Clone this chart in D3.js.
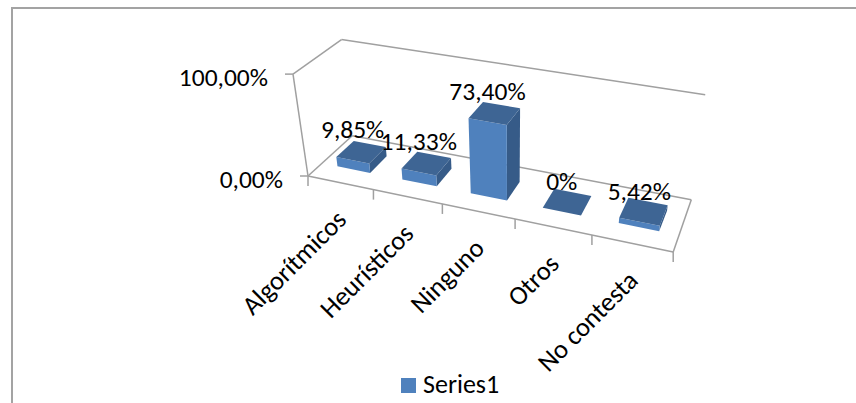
<!DOCTYPE html>
<html>
<head>
<meta charset="utf-8">
<script src="https://cdn.jsdelivr.net/npm/d3@7/dist/d3.min.js"></script>
<style>
  html, body { margin: 0; padding: 0; background: #ffffff; }
  svg { display: block; }
  text { font-family: Calibri, Carlito, Lato, sans-serif; fill: #000; }
</style>
</head>
<body>
<svg id="chart" width="856" height="403"></svg>
<script>
// Survey answers and their shares (%)
const categories = ["Algorítmicos", "Heurísticos", "Ninguno", "Otros", "No contesta"];
const values = [9.85, 11.33, 73.40, 0, 5.42];
const valueLabels = ["9,85%", "11,33%", "73,40%", "0%", "5,42%"];
const yTicks = [0, 100];
const yTickLabels = ["0,00%", "100,00%"];
const seriesName = "Series1";

const W = 856, H = 403;
const svg = d3.select("#chart");

// Chart area frame
svg.append("path")
  .attr("d", `M${W},8 H12 V${H}`)
  .attr("fill", "none")
  .attr("stroke", "#a3a3a3")
  .attr("stroke-width", 2);

// Normalised 3D box: u along categories, v up (value), w into depth
const xScale = d3.scaleBand().domain(categories).range([0, 1])
  .paddingInner(0.49).paddingOuter(0.245);
const yScale = d3.scaleLinear().domain([0, 100]).range([0, 1]);
const depthFront = 0.3, depthBack = 0.7;

// Perspective camera: image of origin, vanishing points and axis weights
const ORIGIN = [308, 176];
const VP_U = [-2207, -347], VP_V = [511, 1555], VP_W = [879, -344];
const LU = -0.1268, LV = -0.0688, LW = 0.084;
function project(u, v, w) {
  const d = 1 + LU * u + LV * v + LW * w;
  return [
    (ORIGIN[0] + LU * u * VP_U[0] + LV * v * VP_V[0] + LW * w * VP_W[0]) / d,
    (ORIGIN[1] + LU * u * VP_U[1] + LV * v * VP_V[1] + LW * w * VP_W[1]) / d
  ];
}
const line = d3.line();
const P = (u, v, w) => project(u, v, w);

// Walls and floor outline
const axisColor = "#a0a0a0";
const edges = [
  [P(0, 1, 0), P(0, 1, 1)],
  [P(0, 1, 1), P(1, 1, 1)],
  [P(0, 1, 0), P(0, 0, 0)],
  [P(0, 0, 0), P(0, 0, 1)],
  [P(0, 0, 1), P(1, 0, 1)],
  [P(0, 0, 0), P(1, 0, 0)],
  [P(1, 0, 0), P(1, 0, 1)]
];
svg.append("g").selectAll("path").data(edges).join("path")
  .attr("d", d => line(d))
  .attr("fill", "none")
  .attr("stroke", axisColor)
  .attr("stroke-width", 1.5);

// Value axis ticks and labels
const yAxis = svg.append("g");
yTicks.forEach((t, i) => {
  const p = project(0, yScale(t), 0);
  yAxis.append("line")
    .attr("x1", p[0] - 8).attr("y1", p[1]).attr("x2", p[0]).attr("y2", p[1])
    .attr("stroke", axisColor).attr("stroke-width", 1.5);
  yAxis.append("text")
    .attr("x", p[0] - 25).attr("y", p[1] + 12)
    .attr("text-anchor", "end")
    .style("font-size", "25.5px")
    .text(yTickLabels[i]);
});

// Category axis ticks at band boundaries
const step = xScale.step();
const boundaries = d3.range(categories.length + 1).map(i => i * step);
svg.append("g").selectAll("line").data(boundaries).join("line")
  .attr("x1", b => project(b, 0, 0)[0])
  .attr("y1", b => project(b, 0, 0)[1])
  .attr("x2", b => project(b, 0, 0)[0])
  .attr("y2", b => project(b, 0, 0)[1] + 10)
  .attr("stroke", axisColor).attr("stroke-width", 1.5);

// Category labels, rotated
svg.append("g").selectAll("text").data(categories).join("text")
  .attr("transform", c => {
    const p = project(xScale(c) + xScale.bandwidth() / 2, 0, 0);
    return `translate(${p[0] + 1},${p[1] + 32}) rotate(-45)`;
  })
  .attr("text-anchor", "end")
  .attr("dy", "0.35em")
  .style("font-size", "26.5px")
  .text(c => c);

// Bars as boxes: top, front and right faces
const colFront = "#4f81bd", colTop = "#3e6594", colSide = "#365b88";
const bars = svg.append("g");
categories.forEach((c, i) => {
  const u0 = xScale(c), u1 = u0 + xScale.bandwidth();
  const h = yScale(values[i]);
  const z0 = depthFront, z1 = depthBack;
  const g = bars.append("g");
  if (h > 0) {
    g.append("path")
      .attr("d", line([P(u1, 0, z0), P(u1, 0, z1), P(u1, h, z1), P(u1, h, z0)]) + "Z")
      .attr("fill", colSide);
    g.append("path")
      .attr("d", line([P(u0, 0, z0), P(u1, 0, z0), P(u1, h, z0), P(u0, h, z0)]) + "Z")
      .attr("fill", colFront);
  }
  g.append("path")
    .attr("d", line([P(u0, h, z0), P(u1, h, z0), P(u1, h, z1), P(u0, h, z1)]) + "Z")
    .attr("fill", colTop);
});

// Data labels above each bar
svg.append("g").selectAll("text").data(categories).join("text")
  .attr("x", (c, i) => project(xScale(c) + xScale.bandwidth() / 2, yScale(values[i]), depthFront)[0])
  .attr("y", (c, i) => project(xScale(c) + xScale.bandwidth() / 2, yScale(values[i]), depthFront)[1] - 22)
  .attr("text-anchor", "middle")
  .style("font-size", "25.5px")
  .text((c, i) => valueLabels[i]);

// Legend
const legend = svg.append("g").attr("transform", "translate(401,378)");
legend.append("rect").attr("width", 15).attr("height", 15).attr("fill", colFront);
legend.append("text").attr("x", 22).attr("y", 14.5)
  .style("font-size", "26px").text(seriesName);
</script>
</body>
</html>
